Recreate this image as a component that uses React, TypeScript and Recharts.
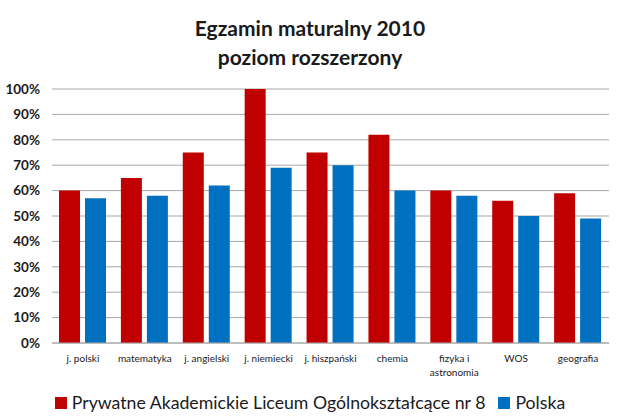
import React from "react";
import { BarChart, Bar, XAxis, YAxis, CartesianGrid } from "recharts";

const categories = [
  "j. polski",
  "matematyka",
  "j. angielski",
  "j. niemiecki",
  "j. hiszpański",
  "chemia",
  "fizyka i astronomia",
  "WOS",
  "geografia",
];
const schoolValues = [60, 65, 75, 100, 75, 82, 60, 56, 59];
const polandValues = [57, 58, 62, 69, 70, 60, 58, 50, 49];
const yTicks = [0, 10, 20, 30, 40, 50, 60, 70, 80, 90, 100];
const titleLines = ["Egzamin maturalny 2010", "poziom rozszerzony"];
const seriesNames = ["Prywatne Akademickie Liceum Ogólnokształcące nr 8", "Polska"];
const colors = ["#C00000", "#0070C0"];

const data = categories.map((c, i) => ({
  name: c,
  school: schoolValues[i],
  poland: polandValues[i],
}));

const FONT = "Lato, 'Open Sans', sans-serif";

const XTick = (props: any) => {
  const { x, y, payload } = props;
  const label: string = payload.value;
  let lines = [label];
  if (label.length > 14) {
    const idx = label.lastIndexOf(" ");
    lines = [label.slice(0, idx), label.slice(idx + 1)];
  }
  return (
    <g transform={`translate(${x},${y})`}>
      {lines.map((l, i) => (
        <text
          key={i}
          x={0}
          y={i * 14}
          dy={11}
          textAnchor="middle"
          fontSize={10}
          fontFamily={FONT}
          fill="#1a1a1a"
        >
          {l}
        </text>
      ))}
    </g>
  );
};

export default function App() {
  return (
    <div style={{ position: "absolute", left: 0, top: 0, width: 620, height: 419, background: "#fff" }}>
      <div
        style={{
          position: "absolute",
          top: 13,
          left: 0,
          width: 620,
          textAlign: "center",
          fontFamily: FONT,
          fontWeight: 700,
          fontSize: 21,
          lineHeight: "29px",
          color: "#1a1a1a",
        }}
      >
        {titleLines.map((t) => (
          <div key={t}>{t}</div>
        ))}
      </div>
      <BarChart
        width={620}
        height={419}
        data={data}
        margin={{ top: 89, right: 11, left: 0, bottom: 36 }}
        barCategoryGap={7}
        barGap={5}
      >
        <CartesianGrid vertical={false} stroke="#a8a8a8" strokeWidth={1} />
        <XAxis
          dataKey="name"
          height={40}
          interval={0}
          tick={<XTick />}
          tickLine={false}
          axisLine={{ stroke: "#a8a8a8" }}
        />
        <YAxis
          width={52}
          domain={[0, 100]}
          ticks={yTicks}
          tickFormatter={(v) => `${v}%`}
          axisLine={false}
          tickLine={false}
          tickSize={0}
          tickMargin={12}
          tick={{ fontSize: 13.5, fontWeight: 700, fill: "#1a1a1a", fontFamily: FONT }}
        />
        <Bar dataKey="school" name={seriesNames[0]} fill={colors[0]} isAnimationActive={false} />
        <Bar dataKey="poland" name={seriesNames[1]} fill={colors[1]} isAnimationActive={false} />
      </BarChart>
      <div
        style={{
          position: "absolute",
          top: 391,
          left: 0,
          width: 620,
          display: "flex",
          justifyContent: "center",
          alignItems: "center",
          fontFamily: FONT,
          fontSize: 17.7,
          lineHeight: "24px",
          color: "#1a1a1a",
        }}
      >
        {seriesNames.map((n, i) => (
          <div key={n} style={{ display: "flex", alignItems: "center", marginRight: i === 0 ? 13 : 0 }}>
            <span style={{ display: "inline-block", width: 12, height: 12, background: colors[i], marginRight: 5 }} />
            <span>{n}</span>
          </div>
        ))}
      </div>
    </div>
  );
}
